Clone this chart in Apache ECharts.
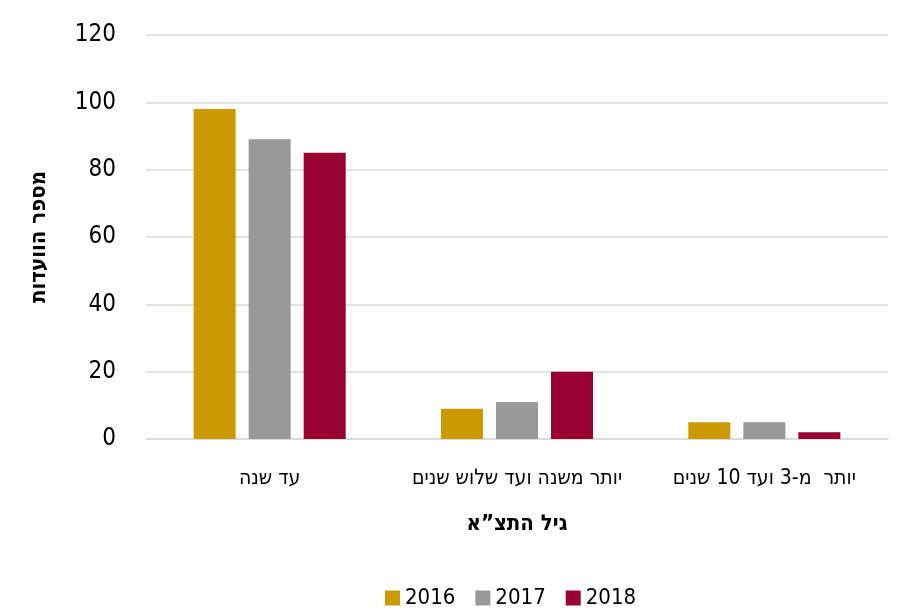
<!DOCTYPE html>
<html>
<head>
<meta charset="utf-8">
<script src="https://cdn.jsdelivr.net/npm/echarts@6/dist/echarts.min.js"></script>
<style>
html,body{margin:0;padding:0;background:#fff;}
#chart{width:904px;height:613px;}
</style>
</head>
<body>
<div id="chart" dir="rtl"></div>
<script>
const categories = ["עד שנה", "יותר משנה ועד שלוש שנים", "יותר  מ-3 ועד 10 שנים"];
const seriesNames = ["2016", "2017", "2018"];
const values2016 = [98, 9, 5];
const values2017 = [89, 11, 5];
const values2018 = [85, 20, 2];
const colors = ["#CC9900", "#999999", "#990033"];
const yTicks = {min: 0, max: 120, interval: 20};

const FONT = '"DejaVu Sans Condensed", "Liberation Sans Narrow", "DejaVu Sans", sans-serif';
const chart = echarts.init(document.getElementById('chart'), null, {renderer: 'canvas'});
const allValues = [values2016, values2017, values2018];
chart.setOption({
  animation: false,
  textStyle: {fontFamily: FONT},
  grid: {left: 146, right: 16, top: 35, bottom: 174},
  legend: {
    top: 587,
    left: 385,
    padding: 0,
    itemWidth: 15,
    itemHeight: 15,
    itemGap: 20,
    icon: 'rect',
    textStyle: {fontFamily: FONT, fontSize: 22, color: '#000'},
    data: seriesNames
  },
  xAxis: {
    type: 'category',
    data: categories,
    axisTick: {show: false},
    axisLine: {lineStyle: {color: '#d9d9d9', width: 1.5}},
    axisLabel: {fontFamily: FONT, fontSize: 21, color: '#000', margin: 29, interval: 0},
    name: 'גיל התצ”א',
    nameLocation: 'middle',
    nameGap: 74,
    nameTextStyle: {fontFamily: FONT, fontSize: 22, fontWeight: 'bold', color: '#000'}
  },
  yAxis: {
    type: 'value',
    min: yTicks.min, max: yTicks.max, interval: yTicks.interval,
    axisLine: {show: false},
    axisTick: {show: false},
    splitLine: {lineStyle: {color: '#d9d9d9', width: 1.5}},
    axisLabel: {fontFamily: FONT, fontSize: 24, color: '#000', margin: 30},
    name: 'מספר הוועדות',
    nameLocation: 'middle',
    nameGap: 96,
    nameRotate: 90,
    nameTextStyle: {fontFamily: FONT, fontSize: 22, fontWeight: 'bold', color: '#000'}
  },
  series: seriesNames.map((n, i) => ({
    name: n,
    type: 'bar',
    data: allValues[i],
    barWidth: 42,
    barGap: '31%',
    itemStyle: {color: colors[i]}
  }))
});
</script>
</body>
</html>
